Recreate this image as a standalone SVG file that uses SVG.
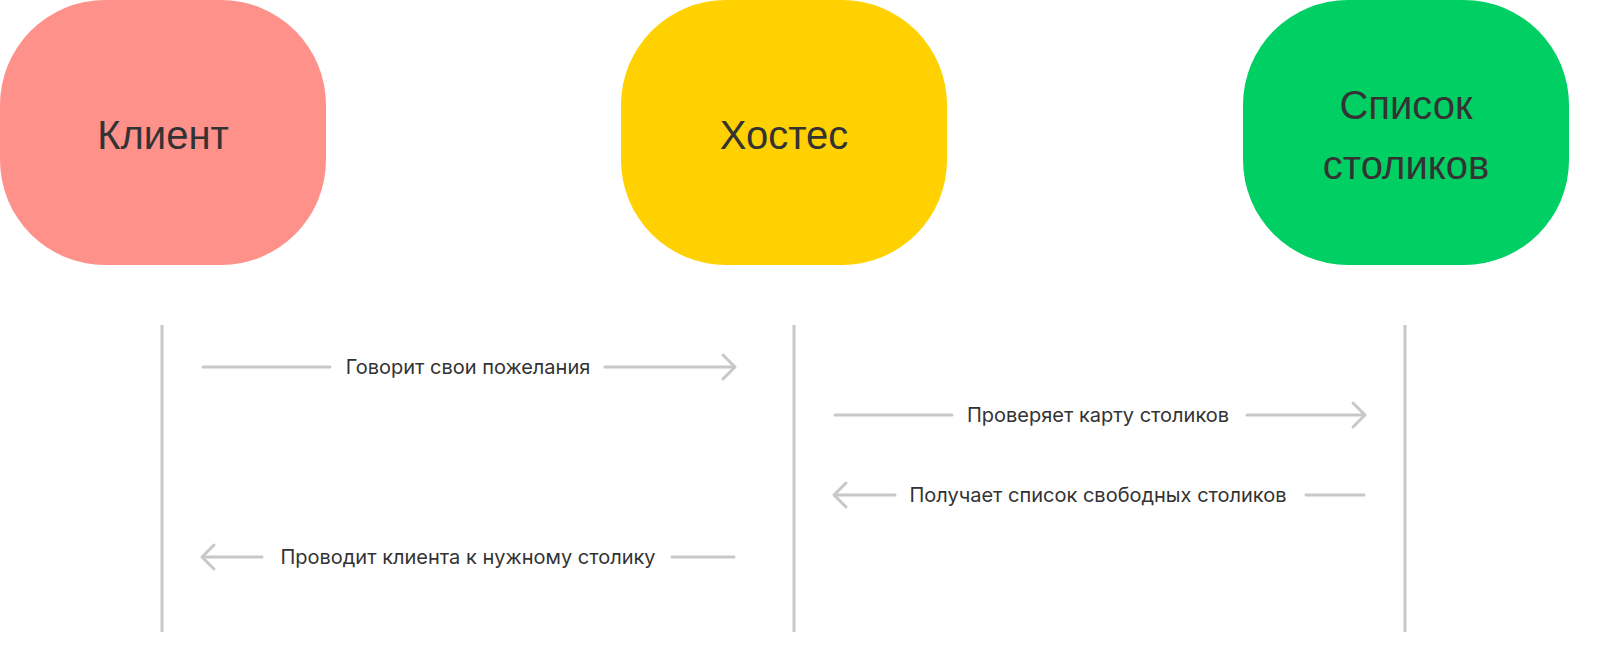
<svg xmlns="http://www.w3.org/2000/svg" width="1600" height="646" viewBox="0 0 1600 646">
<style>
.node-t{font-family:"Liberation Sans",Arial,sans-serif;font-size:40px;fill:#333333;text-anchor:middle}
.lbl{font-family:Inter,Roboto,"Liberation Sans",sans-serif;font-size:20px;fill:#333333;text-anchor:middle}
.life{stroke:#c8c8c8;stroke-width:3;fill:none}
.ln{stroke:#c8c8c8;stroke-width:3;fill:none;stroke-linecap:round}
.hd{stroke:#c8c8c8;stroke-width:3;fill:none;stroke-linecap:round;stroke-linejoin:round}
</style>
<rect width="1600" height="646" fill="#ffffff"/>
<g id="node-client">
<rect x="0" y="0" width="326" height="265" rx="105" ry="105" fill="#FF918B"/>
<text class="node-t" x="163" y="149">Клиент</text>
</g>
<g id="node-hostess">
<rect x="621" y="0" width="326" height="265" rx="105" ry="105" fill="#FFD100"/>
<text class="node-t" x="784" y="149">Хостес</text>
</g>
<g id="node-tables">
<rect x="1243" y="0" width="326" height="265" rx="105" ry="105" fill="#00CF64"/>
<text class="node-t" x="1406" y="119">Список</text>
<text class="node-t" x="1406" y="179">столиков</text>
</g>
<g id="connectors">
<line class="life" x1="162" y1="325" x2="162" y2="632"/>
<line class="life" x1="794" y1="325" x2="794" y2="632"/>
<line class="life" x1="1405" y1="325" x2="1405" y2="632"/>
<line class="ln" x1="203" y1="367" x2="330" y2="367"/>
<line class="ln" x1="605" y1="367" x2="734" y2="367"/>
<polyline class="hd" points="723,355 735,367 723,379"/>
<text class="lbl" x="468" y="374">Говорит свои пожелания</text>
<line class="ln" x1="835" y1="415" x2="952" y2="415"/>
<line class="ln" x1="1247" y1="415" x2="1364" y2="415"/>
<polyline class="hd" points="1353,403 1365,415 1353,427"/>
<text class="lbl" x="1098" y="422">Проверяет карту столиков</text>
<line class="ln" x1="835" y1="495" x2="895" y2="495"/>
<line class="ln" x1="1306" y1="495" x2="1364" y2="495"/>
<polyline class="hd" points="846,483 834,495 846,507"/>
<text class="lbl" x="1098" y="502">Получает список свободных столиков</text>
<line class="ln" x1="203" y1="557" x2="262" y2="557"/>
<line class="ln" x1="672" y1="557" x2="734" y2="557"/>
<polyline class="hd" points="214,545 202,557 214,569"/>
<text class="lbl" x="468" y="564">Проводит клиента к нужному столику</text>
</g>
</svg>
